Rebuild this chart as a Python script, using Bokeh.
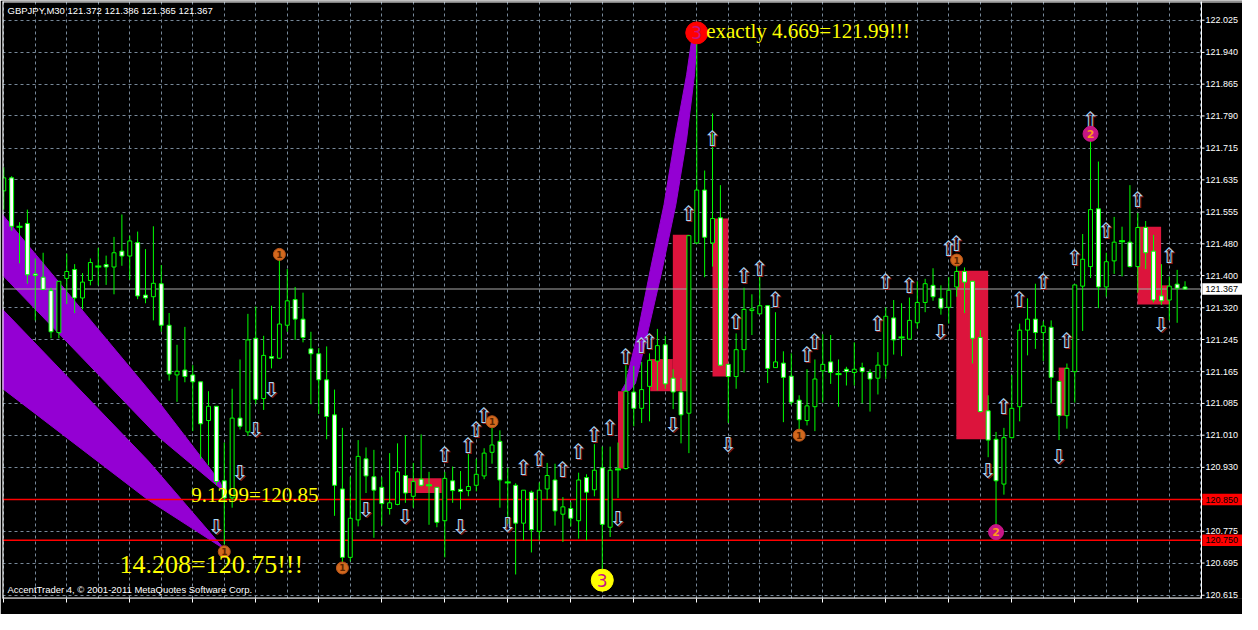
from bokeh.plotting import figure
from bokeh.models import Range1d, FixedTicker, Label, ColumnDataSource, CustomJSTickFormatter
from bokeh.embed import file_html
from bokeh.resources import INLINE
from bokeh.core.properties import value

# ---------------- data (GBPJPY M30) ----------------
opens = [121.608,121.640,121.520,121.528,121.404,121.396,121.363,121.260,121.393,121.415,
         121.345,121.388,121.422,121.427,121.421,121.460,121.448,121.481,121.352,121.348,
         121.380,121.278,121.156,121.168,121.156,121.139,121.044,121.079,120.896,120.854,
         121.050,121.016,121.246,121.098,121.201,121.197,121.278,121.341,121.293,121.220,
         121.208,121.144,121.058,120.876,120.708,120.800,120.950,120.906,120.880,120.828,
         120.838,120.909,120.858,120.900,120.885,120.880,120.798,120.896,120.875,120.872,
         120.885,120.908,120.966,120.993,120.892,120.885,120.792,120.868,120.772,120.876,
         120.898,120.814,120.828,120.798,120.904,120.874,120.928,120.782,120.924,120.926,
         121.114,121.074,121.128,121.190,121.230,121.148,121.114,121.062,121.480,121.610,
         121.480,121.542,121.182,121.152,121.218,121.314,121.306,121.326,121.174,121.185,
         121.153,121.094,121.044,121.078,121.166,121.188,121.158,121.170,121.162,121.174,
         121.162,121.148,121.180,121.296,121.248,121.244,121.284,121.334,121.376,121.344,
         121.322,121.372,121.410,121.386,121.248,121.068,120.998,120.888,121.002,121.078,
         121.266,121.293,121.260,121.273,121.140,121.056,121.164,121.374,121.422,121.564,
         121.372,121.436,121.484,121.482,121.422,121.518,121.460,121.350,121.340,121.379,
         121.372]
highs = [121.666,121.644,121.531,121.562,121.442,121.456,121.370,121.386,121.454,121.428,
         121.406,121.442,121.468,121.449,121.495,121.550,121.498,121.508,121.465,121.521,
         121.426,121.308,121.230,121.274,121.180,121.139,121.116,121.079,120.990,121.122,
         121.194,121.306,121.324,121.252,121.326,121.442,121.416,121.372,121.358,121.262,
         121.222,121.226,121.120,121.026,120.906,120.996,120.978,120.972,120.906,120.964,
         120.988,121.008,120.940,121.010,120.918,120.880,120.918,120.931,120.920,120.966,
         120.950,120.976,121.039,121.020,120.928,120.890,120.873,120.872,120.892,120.940,
         120.938,120.856,120.844,120.916,120.912,120.986,120.980,120.980,120.990,121.180,
         121.178,121.188,121.209,121.269,121.252,121.170,121.148,121.498,121.990,121.658,
         121.798,121.622,121.182,121.258,121.370,121.354,121.398,121.326,121.310,121.214,
         121.209,121.106,121.170,121.194,121.256,121.254,121.194,121.176,121.236,121.186,
         121.170,121.212,121.322,121.340,121.332,121.346,121.386,121.392,121.418,121.376,
         121.396,121.438,121.420,121.386,121.266,121.106,121.016,121.026,121.156,121.282,
         121.344,121.380,121.288,121.290,121.142,121.184,121.377,121.502,121.750,121.680,
         121.456,121.544,121.520,121.622,121.554,121.534,121.500,121.428,121.398,121.414,
         121.386]
lows = [121.562,121.510,121.430,121.380,121.290,121.364,121.246,121.246,121.330,121.308,
        121.317,121.376,121.376,121.377,121.354,121.424,121.390,121.342,121.332,121.290,
        121.262,121.142,121.090,121.138,121.018,120.950,120.934,120.886,120.740,120.830,
        121.022,121.006,121.084,121.070,121.172,121.195,121.262,121.242,121.236,121.084,
        121.060,120.998,120.810,120.686,120.698,120.784,120.866,120.756,120.786,120.813,
        120.836,120.842,120.830,120.882,120.788,120.782,120.708,120.842,120.826,120.858,
        120.870,120.900,120.938,120.830,120.790,120.666,120.750,120.720,120.750,120.850,
        120.786,120.746,120.784,120.754,120.750,120.858,120.670,120.758,120.854,120.924,
        121.030,121.038,121.042,121.118,121.122,121.072,120.988,120.964,121.478,121.396,
        121.422,121.178,121.038,121.122,121.162,121.254,121.305,121.136,121.173,121.040,
        121.082,121.006,121.032,121.018,121.088,121.134,121.078,121.130,121.130,121.086,
        121.066,121.108,121.146,121.206,121.202,121.243,121.270,121.310,121.338,121.304,
        121.282,121.348,121.308,121.184,121.064,120.954,120.774,120.862,121.000,121.042,
        121.204,121.220,121.190,121.086,120.996,121.024,121.088,121.264,121.394,121.320,
        121.348,121.404,121.398,121.420,121.358,121.416,121.334,121.328,121.290,121.284,
        121.365]
closes = [121.640,121.521,121.520,121.402,121.400,121.366,121.262,121.386,121.410,121.345,
          121.384,121.432,121.422,121.421,121.456,121.448,121.485,121.350,121.345,121.381,
          121.278,121.158,121.165,121.152,121.139,121.036,121.079,120.894,120.854,121.050,
          121.030,121.242,121.096,121.204,121.197,121.281,121.338,121.293,121.248,121.208,
          121.144,121.054,120.885,120.708,120.804,120.956,120.908,120.873,120.840,120.842,
          120.918,120.866,120.894,120.885,120.885,120.794,120.902,120.872,120.870,120.882,
          120.912,120.964,120.984,120.898,120.892,120.792,120.873,120.776,120.873,120.909,
          120.822,120.832,120.804,120.898,120.868,120.922,120.789,120.922,120.924,121.116,
          121.074,121.120,121.192,121.228,121.134,121.114,121.058,121.498,121.610,121.494,
          121.540,121.180,121.152,121.218,121.317,121.318,121.326,121.172,121.188,121.150,
          121.089,121.046,121.080,121.146,121.182,121.162,121.158,121.164,121.170,121.164,
          121.146,121.180,121.300,121.242,121.248,121.290,121.334,121.380,121.348,121.320,
          121.364,121.410,121.384,121.246,121.066,120.996,120.896,121.002,121.074,121.266,
          121.293,121.260,121.276,121.150,121.056,121.172,121.377,121.440,121.562,121.372,
          121.434,121.482,121.484,121.422,121.518,121.456,121.340,121.338,121.374,121.369,
          121.367]

time_ticks = [0, 8, 16, 24, 32, 40, 48, 56, 64, 72, 80, 88, 96, 104, 112, 120, 128, 136, 144]
time_labels = ["13 Sep 2011", "14 Sep 00:00", "14 Sep 04:00", "14 Sep 08:00", "14 Sep 12:00",
               "14 Sep 16:00", "14 Sep 20:00", "15 Sep 00:00", "15 Sep 04:00", "15 Sep 08:00",
               "15 Sep 12:00", "15 Sep 16:00", "15 Sep 20:00", "16 Sep 00:00", "16 Sep 04:00",
               "16 Sep 08:00", "16 Sep 12:00", "16 Sep 16:00", "16 Sep 20:00"]
grid_times = list(range(0, 153, 4))

price_ticks = [120.615, 120.694, 120.772, 120.851, 120.929, 121.008, 121.086, 121.164, 121.243,
               121.321, 121.400, 121.478, 121.556, 121.635, 121.713, 121.792, 121.870, 121.948, 122.027]
price_labels = ["120.615", "120.695", "120.775", "120.850", "120.930", "121.010", "121.085",
                "121.165", "121.245", "121.320", "121.400", "121.480", "121.555", "121.635",
                "121.715", "121.790", "121.865", "121.940", "122.025"]

up_idx = [56, 59, 60, 61, 66, 68, 71, 73, 75, 77, 79, 81, 82, 87, 90, 93, 94, 96, 98, 102, 103,
          111, 112, 115, 120, 121, 127, 129, 132, 135, 136, 138, 140, 144, 148]
up_price = [120.960, 120.982, 121.020, 121.056, 120.928, 120.949, 120.922, 120.966, 121.009,
            121.026, 121.201, 121.228, 121.237, 121.552, 121.735, 121.285, 121.399, 121.417,
            121.340, 121.204, 121.238, 121.282, 121.384, 121.374, 121.465, 121.478, 121.078,
            121.340, 121.383, 121.239, 121.443, 121.782, 121.510, 121.585, 121.449]
dn_idx = [27, 30, 32, 34, 46, 51, 58, 64, 78, 85, 92, 119, 125, 134, 147]
dn_price = [120.783, 120.915, 121.020, 121.119, 120.825, 120.808, 120.782, 120.787, 120.801,
            121.032, 120.985, 121.261, 120.921, 120.954, 121.278]

sig1_idx = [28, 35, 43, 62, 101, 121]
sig1_price = [120.722, 121.452, 120.682, 121.041, 121.008, 121.438]
sig2_idx = [126, 138]
sig2_price = [120.770, 121.748]
sig3_idx = [88]
sig3_price = [121.996]
sig3y_idx = [76]
sig3y_price = [120.652]

band_a_t = [-1.0, 19.59, 27.34, 28.09, 19.59, -1.0]
band_a_p = [121.569, 121.092, 120.897, 120.868, 121.005, 121.418]
band_b_t = [-1.0, 18.34, 27.96, 18.34, -1.0]
band_b_p = [121.334, 120.945, 120.729, 120.849, 121.135]
band_c_t = [78.46, 78.96, 80.46, 82.09, 83.84, 85.21, 86.71, 87.34, 87.96, 87.96, 87.71, 86.71,
            85.34, 83.59, 81.71, 80.21, 79.46]
band_c_p = [121.118, 121.135, 121.255, 121.413, 121.574, 121.735, 121.893, 121.977, 121.987,
            121.965, 121.893, 121.735, 121.574, 121.413, 121.255, 121.135, 121.118]

box_left = [51.25, 78.0, 82.09, 84.96, 90.0, 120.96, 133.96, 143.96, 146.96]
box_right = [55.6, 79.25, 84.96, 87.09, 92.0, 125.0, 135.21, 146.96, 147.96]
box_top = [120.902, 121.116, 121.195, 121.500, 121.540, 121.412, 121.174, 121.520, 121.376]
box_bottom = [120.866, 120.926, 121.116, 121.116, 121.152, 120.998, 121.056, 121.329, 121.329]

level_lines = [120.850, 120.750]
bid = 121.367
marker_prices = [bid, 120.850, 120.750]
marker_texts = ["121.367", "120.850", "120.750"]
marker_colors = ["#ffffff", "#ff0000", "#ff0000"]

# ---------------- figure ----------------
# chart area spans time X0..X1; the price scale strip sits inside the frame to the right of X1
X0, X1 = -0.16, 152.09
XE = X0 + (X1 - X0) * 1240 / 1199
Y0, Y1 = 120.607, 122.073
p = figure(width=1242, height=614, output_backend="svg", toolbar_location=None,
           x_range=Range1d(X0, XE), y_range=Range1d(Y0, Y1), y_axis_location=None,
           min_border_left=2, min_border_top=1, min_border_right=0, min_border_bottom=16,
           background_fill_color="black", border_fill_color="black", outline_line_color=None)

p.xaxis.ticker = FixedTicker(ticks=time_ticks)
p.xaxis.formatter = CustomJSTickFormatter(code="return '';")
p.xaxis.axis_line_color = None
p.xaxis.major_tick_line_color = "white"
p.xaxis.major_tick_in = 0
p.xaxis.major_tick_out = 4
p.xaxis.minor_tick_line_color = None

p.xgrid.ticker = FixedTicker(ticks=grid_times)
p.ygrid.ticker = FixedTicker(ticks=price_ticks)
for g in (p.xgrid, p.ygrid):
    g.grid_line_color = "#778899"
    g.grid_line_dash = "3 3"
    g.grid_line_width = 1

# price-scale strip background (hides the grid there)
p.quad(left=[X1], right=[XE + 1], bottom=[Y0 - 1], top=[Y1 + 1], fill_color="black", line_color=None)

# drawn objects: bands and rectangles
p.patches([band_a_t, band_b_t, band_c_t], [band_a_p, band_b_p, band_c_p],
          fill_color="#9400D3", line_color="#9400D3", line_width=1)
p.quad(left=box_left, right=box_right, top=box_top, bottom=box_bottom,
       fill_color="#DC143C", line_color=None)

# horizontal lines across the chart area
p.segment(x0=[X0 - 5] * len(level_lines), x1=[X1] * len(level_lines), y0=level_lines, y1=level_lines,
          line_color="#ff0000", line_width=1.5)
p.segment(x0=[X0 - 5], x1=[X1], y0=[bid], y1=[bid], line_color="#a8a8a8", line_width=1)

# candles
idx = list(range(len(opens)))
top = [max(o, c) for o, c in zip(opens, closes)]
bot = [min(o, c) for o, c in zip(opens, closes)]
fill = ["black" if c >= o else "white" for o, c in zip(opens, closes)]
src = ColumnDataSource(dict(x=idx, hi=highs, lo=lows, top=top, bot=bot, fill=fill))
p.segment(x0="x", y0="lo", x1="x", y1="hi", source=src, line_color="#00ff00", line_width=1)
p.vbar(x="x", width=0.5, top="top", bottom="bot", source=src, fill_color="fill",
       line_color="#00ff00", line_width=1)
doji_x = [i for i in idx if abs(opens[i] - closes[i]) < 0.001]
doji_y = [opens[i] for i in doji_x]
p.scatter(doji_x, doji_y, marker="dash", size=6, line_color="#00ff00", line_width=2)

# arrows (with MT4-like dark shadow)
for xs, ys, ch in [(up_idx, up_price, "\u21e7"), (dn_idx, dn_price, "\u21e9")]:
    p.text(xs, ys, text=[ch] * len(xs), text_align="center", text_baseline="middle",
           x_offset=1, y_offset=1, text_font=value("DejaVu Sans"), text_font_size="21px",
           text_color="#8b1a1a")
    p.text(xs, ys, text=[ch] * len(xs), text_align="center", text_baseline="middle",
           text_font=value("DejaVu Sans"), text_font_size="21px", text_color="#a8d8f4")

# signal circles
p.scatter(sig1_idx, sig1_price, size=12, fill_color="#d2691e", line_color="#b8541a")
p.text(sig1_idx, sig1_price, text=["1"] * len(sig1_idx), text_align="center", text_baseline="middle",
       text_font=value("DejaVu Sans"), text_font_size="9px", text_color="#5a2500", text_font_style="bold")
p.scatter(sig2_idx, sig2_price, size=15, fill_color="#c71585", line_color="#c71585")
p.text(sig2_idx, sig2_price, text=["2"] * len(sig2_idx), text_align="center", text_baseline="middle",
       text_font=value("DejaVu Sans"), text_font_size="11px", text_color="#ff9a1a", text_font_style="bold")
p.scatter(sig3_idx, sig3_price, size=22, fill_color="#ff0000", line_color="#ff0000")
p.scatter(sig3y_idx, sig3y_price, size=22, fill_color="#ffff00", line_color="#ffff00")
p.text(sig3_idx + sig3y_idx, sig3_price + sig3y_price, text=["3", "3"], text_align="center",
       text_baseline="middle", text_font=value("DejaVu Sans"), text_font_size="17px",
       text_color="#c71585")

# chart border (left, top, bottom) and scale separator
p.segment(x0=[X0, X0, X0, X1], x1=[X0, XE + 1, X1, X1], y0=[Y0 - 1, Y1, Y0, Y0 - 1],
          y1=[Y1 + 1, Y1, Y0, Y1 + 1], line_color="white", line_width=[2, 2, 2, 1])

# price scale: ticks and labels
p.ray(x=[X1] * len(price_ticks), y=price_ticks, length=3, length_units="screen", angle=0,
      line_color="white", line_width=1)
p.text(x=[X1] * len(price_ticks), y=price_ticks, text=price_labels, x_offset=4, text_align="left",
       text_baseline="middle", text_font=value("Liberation Sans"), text_font_size="9px",
       text_color="white")
# price markers on the scale (bid and level lines)
p.quad(left=[X1 + 0.1] * 3, right=[XE + 1] * 3, bottom=[v - 0.0142 for v in marker_prices],
       top=[v + 0.0142 for v in marker_prices], fill_color=marker_colors, line_color=None)
p.text(x=[X1] * 3, y=marker_prices, text=marker_texts, x_offset=4, text_align="left",
       text_baseline="middle", text_font=value("Liberation Sans"), text_font_size="9px",
       text_color="black")

# yellow annotations
ann = [("exactly 4.669=121.99!!!", 89.2, 122.001, "21px"),
       ("9.1299=120.85", 23.8, 120.861, "21px"),
       ("14.208=120.75!!!", 14.7, 120.691, "26px")]
for t, x, y, fs in ann:
    p.add_layout(Label(x=x, y=y, text=t, text_align="left", text_baseline="middle",
                       text_font="Liberation Serif", text_font_size=fs, text_color="#ffff00"))

# header / footer texts
p.add_layout(Label(x=X0, y=Y1, x_offset=5, y_offset=-9, text="GBPJPY,M30  121.372 121.386 121.365 121.367",
                   text_align="left", text_baseline="middle", text_font="Liberation Sans",
                   text_font_size="9.5px", text_color="white"))
p.add_layout(Label(x=X0, y=Y0, x_offset=5, y_offset=9,
                   text="AccentTrader 4, \u00a9 2001-2011 MetaQuotes Software Corp.",
                   text_align="left", text_baseline="middle", text_font="Liberation Sans",
                   text_font_size="9.5px", text_color="white"))

# time labels (left-aligned at their ticks, MT4 style)
for t, lab in zip(time_ticks, time_labels):
    p.add_layout(Label(x=t, y=Y0, x_offset=2, y_offset=-10, text=lab, text_align="left",
                       text_baseline="middle", text_font="Liberation Sans", text_font_size="9.5px",
                       text_color="white"))

open("out.html", "w").write(file_html(p, INLINE))
